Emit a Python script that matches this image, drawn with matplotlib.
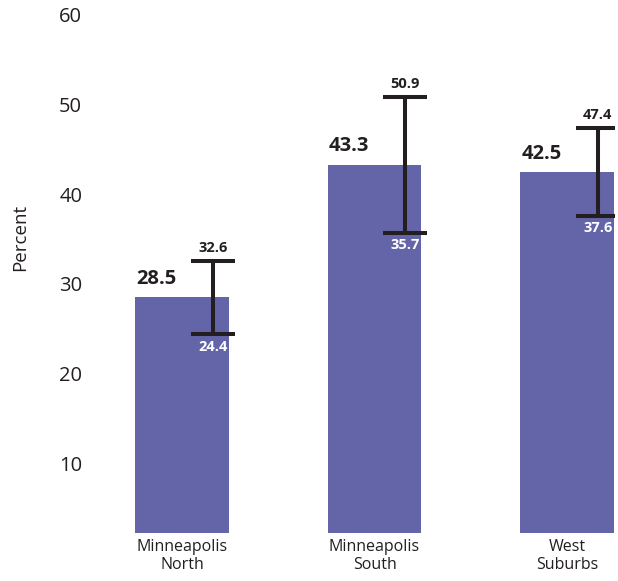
import matplotlib
matplotlib.use("Agg")
import matplotlib.pyplot as plt

plt.rcParams['font.family'] = ['Open Sans', 'DejaVu Sans']

regions = ["Minneapolis\nNorth", "Minneapolis\nSouth", "West\nSuburbs"]
percent = [28.5, 43.3, 42.5]
ci_low = [24.4, 35.7, 37.6]
ci_high = [32.6, 50.9, 47.4]
yticks = [10, 20, 30, 40, 50, 60]

bar_color = "#6464a8"
dark = "#231f20"
w = 0.487
err_off = 0.16

fig = plt.figure(figsize=(6.18, 5.81), dpi=100)
ax = fig.add_axes([135 / 618, 1 - 533 / 581, 479 / 618, 518 / 581])

x = list(range(len(regions)))
ax.bar(x, percent, width=w, color=bar_color, bottom=0)

ex = [i + err_off for i in x]
lo = [p - l for p, l in zip(percent, ci_low)]
hi = [h - p for p, h in zip(percent, ci_high)]
ax.errorbar(ex, percent, yerr=[lo, hi], fmt='none', ecolor=dark,
            elinewidth=2.9, capsize=16, capthick=2.9)

for i in x:
    ax.annotate(f"{percent[i]}", (i - w / 2, percent[i]), xytext=(1, 6),
                textcoords="offset points", ha='left', va='bottom',
                fontsize=14.5, fontweight='bold', color=dark)
    ax.annotate(f"{ci_high[i]}", (ex[i], ci_high[i]), xytext=(0, 4),
                textcoords="offset points", ha='center', va='bottom',
                fontsize=10.5, fontweight='bold', color=dark)
    ax.annotate(f"{ci_low[i]}", (ex[i], ci_low[i]), xytext=(0, -4),
                textcoords="offset points", ha='center', va='top',
                fontsize=10.5, fontweight='bold', color='white')

ax.set_xlim(-w / 2, 2 + w / 2)
ax.set_ylim(2.2, 60)
ax.set_yticks(yticks)
ax.set_yticklabels([str(t) for t in yticks], fontsize=14.5, color=dark)
ax.set_xticks(x)
ax.set_xticklabels(regions, fontsize=11.5, color=dark, linespacing=1.2)
ax.tick_params(axis='both', length=0)
ax.tick_params(axis='y', pad=38)
ax.tick_params(axis='x', pad=4)
for s in ax.spines.values():
    s.set_visible(False)

fig.text(20 / 618, 1 - 237 / 581, "Percent", rotation=90, ha='center',
         va='center', fontsize=13.5, color=dark)

fig.savefig("out.png", dpi=100)
